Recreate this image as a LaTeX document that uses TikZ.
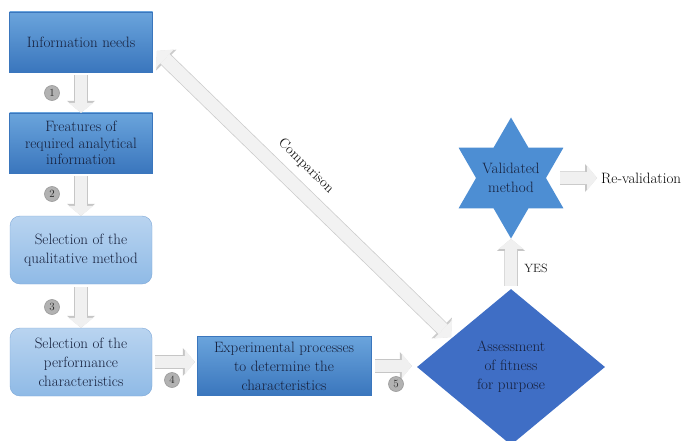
\documentclass[tikz,border=0pt]{standalone}
\usepackage{xcolor}
\usepackage{tikz}
\usetikzlibrary{arrows.meta,positioning,shapes.geometric}

\definecolor{bluetop}{HTML}{6AA4DC}
\definecolor{bluebot}{HTML}{3A76BD}
\definecolor{paletop}{HTML}{B9D4F0}
\definecolor{palebot}{HTML}{8FBAE6}
\definecolor{paleedge}{HTML}{7EA8D8}
\definecolor{inkblue}{HTML}{16203C}
\definecolor{diamblue}{HTML}{3F6EC5}
\definecolor{starblue}{HTML}{4D8ED3}

\newcommand\blockfont{\fontsize{15}{19}\selectfont}
\newcommand\tightfont{\fontsize{15}{16.5}\selectfont}

\tikzset{
  stepbox/.style={rectangle, top color=bluetop, bottom color=bluebot, draw=bluebot,
    align=center, text=inkblue, font=\blockfont, inner sep=0pt},
  palebox/.style={stepbox, rounded corners=10pt, top color=paletop, bottom color=palebot, draw=paleedge},
  fatarrow/.style={draw=gray!12, line width=12pt, -{Triangle[width=25pt,length=10pt,line width=0pt]},
    preaction={draw=gray!45, line width=13.5pt, -{Triangle[width=28pt,length=12pt,line width=0pt]}}},
  fatboth/.style={draw=gray!10, line width=13pt,
    {Triangle[width=26pt,length=11pt,line width=0pt]}-{Triangle[width=26pt,length=11pt,line width=0pt]},
    preaction={draw=gray!40, line width=14.5pt,
    {Triangle[width=29pt,length=13pt,line width=0pt]}-{Triangle[width=29pt,length=13pt,line width=0pt]}}},
  numdot/.style={circle, fill=gray!60, draw=gray!80, line width=0.6pt, inner sep=0pt,
    minimum size=15pt, text=black!85, font=\fontsize{11}{11}\selectfont}
}

\begin{document}
\begin{tikzpicture}[x=1pt,y=-1pt]
\useasboundingbox (0,0) rectangle (690,441);
% left column
\node[stepbox, minimum width=143pt, minimum height=60pt] (need) at (81,42) {Information needs};
\node[stepbox, minimum width=143pt, minimum height=60pt, font=\tightfont] (feat) at (81,143) {Freatures of\\required analytical\\information};
\node[palebox, minimum width=142pt, minimum height=68pt] (qual) at (81,250) {Selection of the\\qualitative method};
\node[palebox, minimum width=142pt, minimum height=68pt] (perf) at (81,362) {Selection of the\\performance\\characteristics};
% bottom row and decision
\node[stepbox, minimum width=174pt, minimum height=59pt] (exper) at (284,366) {Experimental processes\\to determine the\\characteristics};
\node[diamond, fill=diamblue, minimum width=188pt, minimum height=156pt, inner sep=0pt,
  align=center, text=inkblue, font=\blockfont] (assess) at (511,367) {Assessment\\of fitness\\for purpose};
\node[star, star points=6, star point ratio=1.73, fill=starblue, minimum size=121pt, inner sep=-8pt,
  align=center, text=inkblue, font=\blockfont] (valid) at (511,178) {Validated\\method};
\node[anchor=west, font=\blockfont, inner sep=0pt] (reval) at (601,178) {Re-validation};
% flow arrows
\draw[fatarrow, shorten <=3pt] (need) -- (feat);
\draw[fatarrow, shorten <=3pt] (feat) -- (qual);
\draw[fatarrow, shorten <=3pt] (qual) -- (perf);
\draw[fatarrow, shorten <=3pt, shorten >=2pt] (perf.east) -- (perf.east -| exper.west);
\draw[fatarrow, shorten <=4pt, shorten >=5pt] (exper.east) -- (exper.east -| assess.west);
\draw[fatarrow, shorten <=3pt] (assess.north) -- (valid.south);
\draw[fatarrow, shorten <=14pt, shorten >=4pt] (valid.east) -- (reval.west);
% step numbers
\node[numdot] (n1) at (52,93) {1};
\node[numdot] (n2) at (52,194) {2};
\node[numdot] (n3) at (52,307) {3};
\node[numdot] (n4) at (172,380) {4};
\node[numdot] (n5) at (396,384) {5};
\node[font=\fontsize{12}{13}\selectfont, text=black!90] (yes) at (536,268) {YES};
% comparison
\coordinate (cmptop) at (157,51);
\coordinate (cmpbot) at (451,337);
\draw[fatboth] (cmptop) -- (cmpbot);
\node[rotate=-44.2, font=\fontsize{14}{15}\selectfont, text=black!90] (cmp) at (306,166) {Comparison};
\end{tikzpicture}
\end{document}
